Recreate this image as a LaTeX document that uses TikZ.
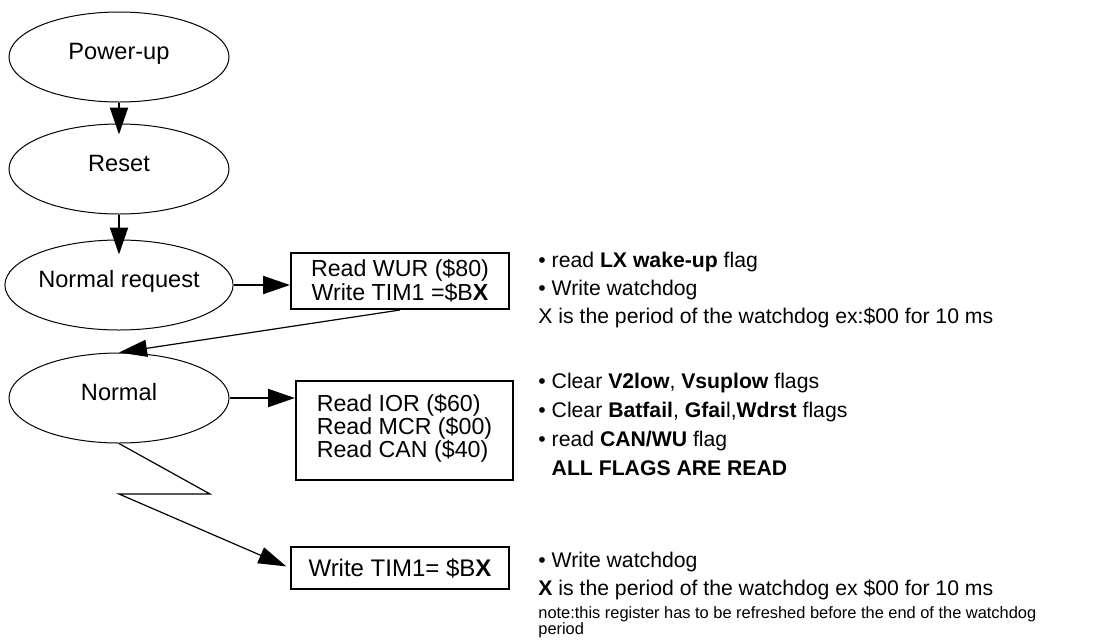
\documentclass[tikz,border=0pt]{standalone}
\usepackage{fontspec}
\setmainfont{Liberation Sans}
\usetikzlibrary{shapes.geometric,arrows.meta}
\newcommand{\tightskip}{\lineskiplimit=-10pt\relax}

\begin{document}
\begin{tikzpicture}[x=0.5pt, y=-0.5pt,
    state/.style={ellipse, draw, line width=0.5pt, minimum width=110pt, minimum height=45pt,
        inner sep=0pt, text height=8.6pt, text depth=6pt, font=\fontsize{11.8}{14}\selectfont},
    regbox/.style={draw, line width=1pt, minimum width=109pt, inner sep=0pt, align=center,
        font=\fontsize{11.6}{12}\selectfont},
    note/.style={anchor=west, inner sep=0pt, align=left, font=\fontsize{10.6}{14}\selectfont},
    arr/.style={-{Triangle[length=13.5pt,width=9pt]}, line width=1pt},
    thinarr/.style={-{Triangle[length=14pt,width=8.5pt]}, line width=0.6pt}]
    \useasboundingbox (0,0) rectangle (1099,639);

    % Draw the states
    \node[state] (powerup) at (119,57) {Power-up};
    \node[state] (reset) at (119,169) {Reset};
    \node[state] (nreq) at (119,285) {Normal request};
    \node[state] (normal) at (119,398) {Normal};

    % Register accesses
    \node[regbox, minimum height=28pt] (wur) at (400,281) {Read WUR (\$80)\\Write TIM1 =\$B\textbf{X}};
    \node[regbox, anchor=north, align=left, minimum width=108.5pt, text height=38pt, text depth=11.5pt,
        font=\fontsize{11.6}{11.5}\selectfont] (ior) at (404.5,380)
        {Read IOR (\$60)\\Read MCR (\$00)\\Read CAN (\$40)};
    \node[regbox, minimum height=21pt, font=\fontsize{12}{14}\selectfont] (tim) at (400,568) {Write TIM1= \$B\textbf{X}};

    % Draw the arrows
    \draw[arr, shorten >=-5.5pt] (powerup) -- (reset);
    \draw[arr, shorten >=-7.5pt] (reset) -- (nreq);
    \draw[arr] (nreq.east) -- (nreq.east -| wur.west);
    \draw[thinarr] (wur.south) -- (normal.north);
    \draw[arr] (normal.east) -- (normal.east -| ior.west);
    \coordinate (zig1) at (210,494);
    \coordinate (zig2) at (119,494);
    \draw[thinarr, shorten >=2pt] (normal.south) -- (zig1) -- (zig2) -- (tim.west);

    % Comments
    \node[note] (lxflag) at (538,290) {\textbullet{} read \textbf{LX wake-up} flag\\
        \textbullet{} Write watchdog\\
        X is the period of the watchdog ex:\$00 for 10 ms};
    \node[note, font=\fontsize{10.6}{14.5}\selectfont] (flags) at (538,424) {\textbullet{} Clear \textbf{V2low}, \textbf{Vsuplow} flags\\
        \textbullet{} Clear \textbf{Batfail}, \textbf{Gfai}l,\textbf{Wdrst} flags\\
        \textbullet{} read \textbf{CAN/WU} flag\\
        \hphantom{\textbullet{} }\textbf{ALL FLAGS ARE READ}};
    \node[note] (wdog) at (538,576) {\textbullet{} Write watchdog\\
        \textbf{X} is the period of the watchdog ex \$00 for 10 ms};
    \node[note, font=\fontsize{8.2}{7.8}\selectfont\tightskip] (refresh) at (538,622)
        {note:this register has to be refreshed before the end of the watchdog\\period};
\end{tikzpicture}
\end{document}
